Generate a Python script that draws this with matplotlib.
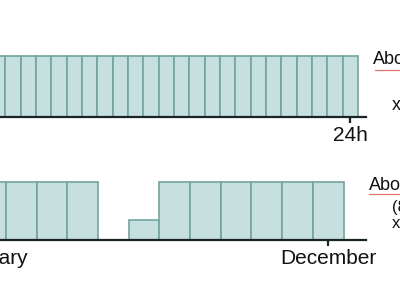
import matplotlib
matplotlib.use("Agg")
import matplotlib.pyplot as plt
from matplotlib.lines import Line2D

# ---- data ----
hours = list(range(1, 25))
hour_values = [1] * 24
hour_tick_label = "24h"

months = list(range(1, 13))
month_values = [1, 1, 1, 1, 0, 0.34, 1, 1, 1, 1, 1, 1]
month_first_label = "January"
month_last_label = "December"

top_note = ["About", "x 24"]
bottom_note = ["About", "(8760 h)", "x 365"]

# ---- style ----
FILL = "#c5e0df"
EDGE = "#74a3a0"
AXC = "#1a2424"
FONT = "Liberation Sans"
plt.rcParams["font.family"] = [FONT, "DejaVu Sans"]

fig = plt.figure(figsize=(4, 3), dpi=100)
fig.patch.set_facecolor("white")

def px(x):
    return x / 400.0

def py(y):
    return 1 - y / 300.0

def style_axes(ax):
    for s in ("top", "right", "left"):
        ax.spines[s].set_visible(False)
    ax.spines["bottom"].set_linewidth(1.6)
    ax.spines["bottom"].set_color(AXC)
    ax.set_yticks([])
    ax.tick_params(axis="x", direction="out", length=4, width=1.6, color=AXC,
                   pad=2.5, labelsize=15, labelcolor="#111111")
    ax.patch.set_alpha(0)

# top panel: hours
ax1 = fig.add_axes([0, py(117), px(366), (117 - 56) / 300.0])
ax1.bar(hours, hour_values, width=1.0, color=FILL, edgecolor=EDGE,
        linewidth=1.2, clip_on=False)
ax1.set_xlim(1.15, 25.02)
ax1.set_ylim(0, 1)
ax1.set_xticks([hours[-1]])
ax1.set_xticklabels([hour_tick_label])
style_axes(ax1)

# bottom panel: months
ax2 = fig.add_axes([0, py(240), px(366), (240 - 182) / 300.0])
ax2.bar(months, month_values, width=1.0, color=FILL, edgecolor=EDGE,
        linewidth=1.2, clip_on=False)
ax2.set_xlim(1.31, 13.23)
ax2.set_ylim(0, 1)
ax2.set_xticks([months[-1]])
ax2.set_xticklabels([month_last_label])
style_axes(ax2)
ax2.annotate(month_first_label, xy=(months[0], 0),
             xycoords=("data", "axes fraction"),
             xytext=(0, -6.5), textcoords="offset points",
             ha="center", va="top", fontsize=15, color="#111111",
             annotation_clip=False)

# right-hand notes (cut off by the frame)
fig.text(px(373), py(64), top_note[0], fontsize=13, va="baseline", ha="left", color="#111111")
fig.text(px(392), py(110), top_note[1], fontsize=13, va="baseline", ha="left", color="#111111")
fig.add_artist(Line2D([px(375), px(400)], [py(69.5), py(69.5)], color="#d9534f",
                      lw=0.9, alpha=0.8))

fig.text(px(369), py(190), bottom_note[0], fontsize=13, va="baseline", ha="left", color="#111111")
fig.text(px(392), py(212), bottom_note[1], fontsize=12, va="baseline", ha="left", color="#111111")
fig.text(px(392), py(228), bottom_note[2], fontsize=12, va="baseline", ha="left", color="#111111")
fig.add_artist(Line2D([px(369), px(400)], [py(193.5), py(193.5)], color="#d9534f",
                      lw=0.9, alpha=0.8))

fig.savefig("out.png", dpi=100, facecolor="white")
